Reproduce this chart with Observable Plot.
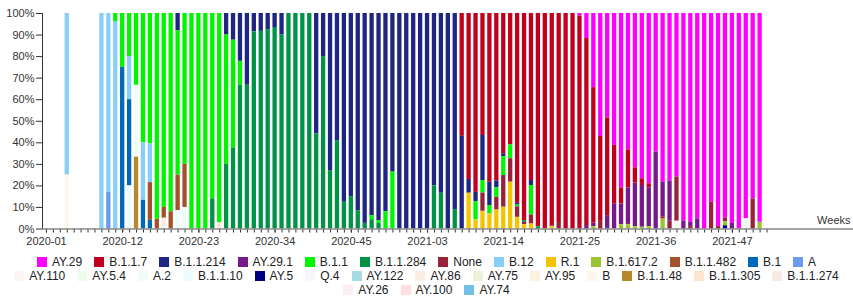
<!DOCTYPE html>
<html><head><meta charset="utf-8">
<script src="https://cdn.jsdelivr.net/npm/d3@7"></script>
<script src="https://cdn.jsdelivr.net/npm/@observablehq/plot@0.6"></script>
<style>
body{margin:0;background:#fff;font-family:"Liberation Sans",Arial,sans-serif;}
#legend{width:853px;margin-top:3px;font-size:12px;color:#222;}
.row{display:flex;justify-content:center;height:14px;align-items:center;}
.item{display:flex;align-items:center;margin:0 6px;white-space:nowrap;line-height:14px;}
.sw{width:10px;height:10px;margin-right:5px;}
</style></head><body><div id="chart"></div><div id="legend"></div>
<script>
// Legend order (top of stack first) and colours
const lineages = ["AY.29","B.1.1.7","B.1.1.214","AY.29.1","B.1.1","B.1.1.284","None","B.12","R.1","B.1.617.2","B.1.1.482","B.1","A",
  "AY.110","AY.5.4","A.2","B.1.1.10","AY.5","Q.4","AY.122","AY.86","AY.75","AY.95","B","B.1.1.48","B.1.1.305","B.1.1.274",
  "AY.26","AY.100","AY.74"];
const colors = ["#ff00ff","#c0001c","#1f2582","#76198a","#00f500","#009245","#97233a","#87cefa","#f5c400","#9ac433","#a3522b","#0068b8","#6b9bef",
  "#fff4f4","#ecfdec","#f2fcf6","#ebfcfd","#000080","#f6f6fe","#a8dce4","#fdece6","#eef2d8","#fcf2e2","#fef8ec","#b8862b","#fbe5cf","#f8ebe4",
  "#fdeef3","#fde0dd","#72c0e8"];
const legendRows = [13, 14, 3];

// x categories: ISO weeks of 2020 (53) and 2021 (52)
const years = [[2020, 53], [2021, 52]];
const weeks = [];
for (const [y, n] of years) for (let w = 1; w <= n; w++) weeks.push(`${y}-${String(w).padStart(2, "0")}`);
const tickLabels = ["2020-01","2020-12","2020-23","2020-34","2020-45","2021-03","2021-14","2021-25","2021-36","2021-47"];
const yTicks = [0,0.1,0.2,0.3,0.4,0.5,0.6,0.7,0.8,0.9,1];

// Share (%) of each lineage per week
const AY_29 = [["2021-25",1.2],["2021-26",11.6],["2021-27",34.4],["2021-28",57],["2021-29",48.5],["2021-30",61.2],["2021-31",80.9],["2021-32",63.3],["2021-33",71.6],["2021-34",76.7],["2021-35",79.1],["2021-36",64.3],["2021-37",78.3],["2021-38",77.8],["2021-39",76],["2021-40",96.4],["2021-41",96.9],["2021-42",95.3],["2021-43",100],["2021-44",87.6],["2021-45",98.9],["2021-46",94.9],["2021-47",97.4],["2021-48",100],["2021-49",95.3],["2021-50",86],["2021-51",96.9]];
const B_1_1_7 = [["2021-08",57],["2021-09",77],["2021-10",83],["2021-11",56.6],["2021-12",78.3],["2021-13",77.8],["2021-14",65.1],["2021-15",61],["2021-16",88.1],["2021-17",96.1],["2021-18",77.5],["2021-19",99],["2021-20",100],["2021-21",98.5],["2021-22",97],["2021-23",100],["2021-24",100],["2021-25",98.8],["2021-26",86.8],["2021-27",62.9],["2021-28",39],["2021-29",45.3],["2021-30",27.1],["2021-31",7.4],["2021-32",17.7],["2021-33",7.1],["2021-34",3.1],["2021-35",1.9]];
const B_1_1_214 = [["2020-20",8],["2020-27",10],["2020-28",12.4],["2020-29",22.2],["2020-30",33.3],["2020-31",8.5],["2020-32",8.3],["2020-33",7.5],["2020-34",6.5],["2020-35",10],["2020-40",55.8],["2020-41",20],["2020-42",72.9],["2020-43",59],["2020-44",87.6],["2020-45",85],["2020-46",91.5],["2020-47",97.4],["2020-48",93.8],["2020-49",96.1],["2020-50",92],["2020-51",73.6],["2020-52",100],["2020-53",100],["2021-01",100],["2021-02",100],["2021-03",100],["2021-04",80],["2021-05",83.4],["2021-06",100],["2021-07",91],["2021-08",43],["2021-09",6.4],["2021-10",4.3],["2021-11",20.9],["2021-12",10.8],["2021-13",3.1],["2021-14",1.3],["2021-16",0.8],["2021-18",2.3]];
const AY_29_1 = [["2021-26",1.6],["2021-27",1.6],["2021-29",5.7],["2021-30",11.7],["2021-31",9.6],["2021-32",16.4],["2021-33",20.2],["2021-34",19.4],["2021-35",18],["2021-36",35.7],["2021-37",16],["2021-38",18.6],["2021-40",3.6],["2021-41",2],["2021-42",4.7],["2021-47",2.6]];
const B_1_1 = [["2020-11",4],["2020-12",25],["2020-13",20],["2020-14",33.3],["2020-15",60],["2020-16",60.5],["2020-17",95.5],["2020-18",90],["2020-19",92],["2020-20",67],["2020-21",70],["2020-22",100],["2020-23",100],["2020-24",100],["2020-25",86],["2020-26",97],["2020-27",60],["2020-28",50],["2020-29",11.1],["2020-48",1.9],["2020-49",1.3],["2020-50",8],["2020-51",26.4],["2021-10",8.5],["2021-11",5.8],["2021-12",3.9],["2021-13",4.4],["2021-14",8.8],["2021-15",6.4],["2021-16",0.8],["2021-18",13.7]];
const B_1_1_284 = [["2020-25",14],["2020-27",30],["2020-28",37.6],["2020-29",66.7],["2020-30",66.7],["2020-31",91.5],["2020-32",91.7],["2020-33",92.5],["2020-34",93.5],["2020-35",90],["2020-36",100],["2020-37",100],["2020-38",100],["2020-39",100],["2020-40",44.2],["2020-41",80],["2020-42",27.1],["2020-43",41],["2020-44",12.4],["2020-45",15],["2020-46",8.5],["2020-47",2.6],["2020-48",4.3],["2020-49",2.6],["2021-04",20],["2021-05",16.6],["2021-07",9],["2021-17",0.8],["2021-19",1]];
const NONE = [["2021-11",8.5],["2021-13",5.9],["2021-14",14.7],["2021-15",10.9],["2021-16",4.9],["2021-17",1.1],["2021-18",4.2],["2021-21",0.5],["2021-22",3],["2021-28",3.9],["2021-32",0.6],["2021-37",1.1],["2021-38",3.6],["2021-39",20.5],["2021-41",1.1],["2021-44",12.4],["2021-45",1.1],["2021-46",1.7],["2021-50",14]];
const B_12 = [["2020-04",75],["2020-09",100],["2020-10",83],["2020-11",96],["2020-13",20],["2020-15",26.7],["2020-16",18]];
const R_1 = [["2021-09",16.6],["2021-10",4.2],["2021-11",8.2],["2021-12",7],["2021-13",8.8],["2021-14",10.1],["2021-15",21.7],["2021-16",5.4],["2021-17",2],["2021-18",2.3],["2021-21",1]];
const B_1_617_2 = [["2021-27",1.1],["2021-31",2],["2021-32",2],["2021-33",1.1],["2021-34",0.8],["2021-35",1.1],["2021-37",4.6],["2021-46",1.9],["2021-51",3.1]];
const B_1_1_482 = [["2020-16",17.5],["2020-17",4.5],["2020-18",5],["2020-19",8],["2020-20",16.5],["2020-21",20]];
const B_1 = [["2020-12",75],["2020-13",40],["2020-15",13.3],["2020-16",4]];
const A = [["2020-10",17]];
const AY_110 = [["2021-39",3.6]];
const AY_5_4 = [["2021-49",4.7]];
const A_2 = [["2020-14",33.3]];
const B_1_1_10 = [["2020-13",20],["2020-20",8.5],["2020-21",10]];
const AY_5 = [["2021-29",0.5],["2021-46",1.5]];
const B_ = [["2020-04",25]];
const B_1_1_48 = [["2020-14",33.3]];
const B_1_1_305 = [["2020-26",3]];
const B_1_1_274 = [["2020-18",5]];

const series = [["AY.29",AY_29],["B.1.1.7",B_1_1_7],["B.1.1.214",B_1_1_214],["AY.29.1",AY_29_1],["B.1.1",B_1_1],["B.1.1.284",B_1_1_284],
  ["None",NONE],["B.12",B_12],["R.1",R_1],["B.1.617.2",B_1_617_2],["B.1.1.482",B_1_1_482],["B.1",B_1],["A",A],
  ["AY.110",AY_110],["AY.5.4",AY_5_4],["A.2",A_2],["B.1.1.10",B_1_1_10],["AY.5",AY_5],["B",B_],["B.1.1.48",B_1_1_48],
  ["B.1.1.305",B_1_1_305],["B.1.1.274",B_1_1_274]];

const table = [];
for (const [name, arr] of series) for (const [w, v] of arr) table.push({week: w, lineage: name, value: v});

const font = '"Liberation Sans", Arial, sans-serif';
const chart = Plot.plot({
  width: 853, height: 252,
  marginLeft: 42, marginRight: 0, marginTop: 13, marginBottom: 23.5,
  style: {fontFamily: font, fontSize: "11px", color: "#333", background: "white", overflow: "visible"},
  x: {type: "band", domain: weeks, range: [42.5, 770], paddingInner: 0.38, paddingOuter: 0.19, axis: null, label: null},
  y: {domain: [0, 1], axis: null, label: null},
  color: {domain: lineages, range: colors},
  marks: [
    Plot.barY(table, Plot.stackY({x: "week", y: "value", z: "lineage", fill: "lineage", offset: "normalize", order: lineages.slice().reverse()})),
    Plot.axisX({ticks: weeks, tickSize: 4, tickFormat: () => "", stroke: "#333", label: null}),
    Plot.axisX({ticks: tickLabels, tickSize: 4, tickPadding: 4, stroke: "#333", fill: "#333", label: null}),
    Plot.axisY({ticks: yTicks, tickFormat: d3.format(".0%"), tickSize: 6, tickPadding: 2, stroke: "#333", fill: "#333", label: null}),
    Plot.frame({anchor: "left", stroke: "#333"}),
    Plot.frame({anchor: "bottom", stroke: "#888", strokeWidth: 1.5}),
    Plot.text(["Weeks"], {frameAnchor: "bottom-right", dx: -3, dy: -5, fontSize: 11, fill: "#333"})
  ]
});
document.getElementById("chart").appendChild(chart);

// Legend
const legend = document.getElementById("legend");
let k = 0;
for (const n of legendRows) {
  const row = document.createElement("div");
  row.className = "row";
  for (let j = 0; j < n; j++, k++) {
    const item = document.createElement("div");
    item.className = "item";
    const sw = document.createElement("span");
    sw.className = "sw";
    sw.style.background = colors[k];
    const lab = document.createElement("span");
    lab.textContent = lineages[k];
    item.appendChild(sw); item.appendChild(lab);
    row.appendChild(item);
  }
  legend.appendChild(row);
}
</script></body></html>
